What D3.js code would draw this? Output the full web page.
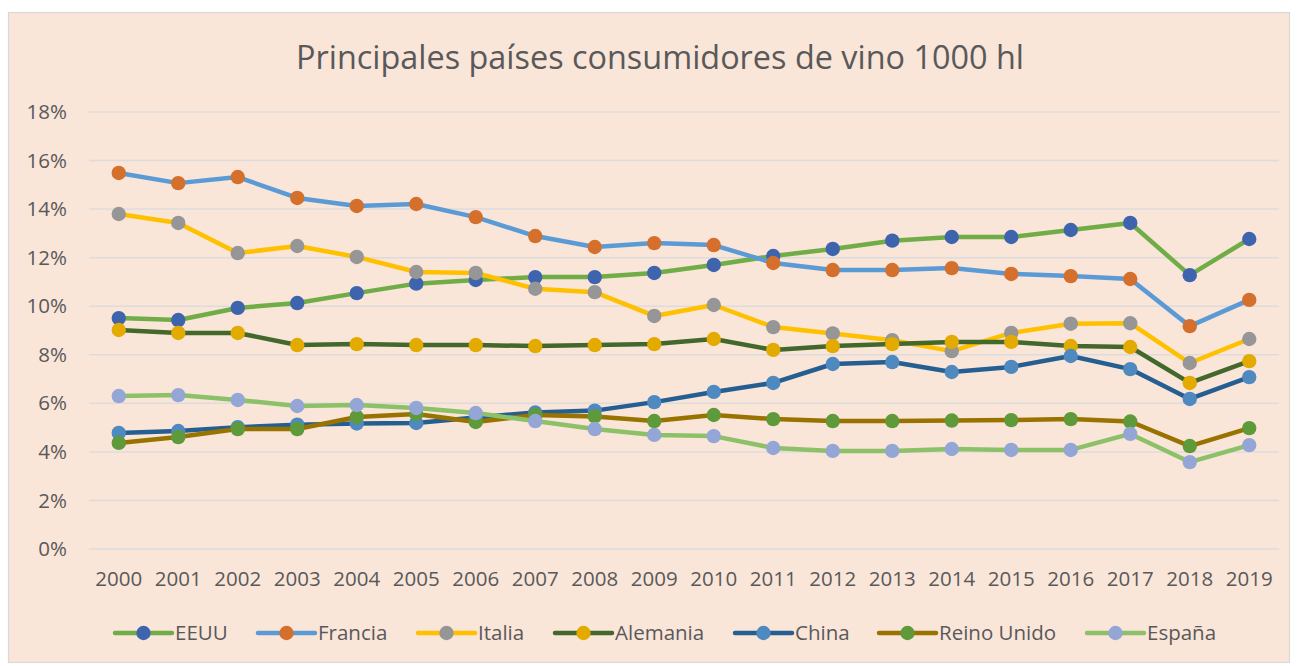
<!DOCTYPE html>
<html>
<head>
<meta charset="utf-8">
<script src="https://cdn.jsdelivr.net/npm/d3@7"></script>
<style>
  body { margin: 0; background: #ffffff; }
  svg { display: block; font-family: "Open Sans", Lato, sans-serif; }
</style>
</head>
<body>
<div id="chart"></div>
<script>
// ***** Data *****
var years = ["2000","2001","2002","2003","2004","2005","2006","2007","2008","2009",
             "2010","2011","2012","2013","2014","2015","2016","2017","2018","2019"];

var eeuu     = [9.51, 9.43, 9.93, 10.13, 10.54, 10.93, 11.08, 11.2, 11.2, 11.37, 11.7, 12.07, 12.36, 12.7, 12.85, 12.85, 13.14, 13.43, 11.28, 12.77];
var francia  = [15.49, 15.07, 15.32, 14.46, 14.13, 14.21, 13.67, 12.89, 12.44, 12.6, 12.52, 11.78, 11.49, 11.49, 11.57, 11.33, 11.24, 11.12, 9.18, 10.26];
var italia   = [13.8, 13.43, 12.19, 12.48, 12.03, 11.41, 11.37, 10.72, 10.58, 9.6, 10.05, 9.14, 8.88, 8.6, 8.15, 8.9, 9.28, 9.3, 7.66, 8.65];
var alemania = [9.02, 8.9, 8.9, 8.4, 8.44, 8.4, 8.4, 8.36, 8.4, 8.44, 8.65, 8.2, 8.36, 8.44, 8.53, 8.53, 8.36, 8.32, 6.84, 7.74];
var china    = [4.78, 4.86, 5.02, 5.12, 5.17, 5.19, 5.42, 5.62, 5.7, 6.05, 6.47, 6.84, 7.62, 7.7, 7.29, 7.5, 7.95, 7.41, 6.18, 7.08];
var reino    = [4.37, 4.61, 4.94, 4.94, 5.44, 5.56, 5.23, 5.52, 5.46, 5.27, 5.52, 5.35, 5.27, 5.27, 5.29, 5.31, 5.35, 5.25, 4.24, 4.98];
var espana   = [6.3, 6.34, 6.14, 5.89, 5.93, 5.81, 5.6, 5.27, 4.94, 4.7, 4.65, 4.16, 4.04, 4.04, 4.12, 4.08, 4.08, 4.74, 3.58, 4.28];

var yTicks = [0, 2, 4, 6, 8, 10, 12, 14, 16, 18];

var seriesNames   = ["EEUU", "Francia", "Italia", "Alemania", "China", "Reino Unido", "España"];
var seriesValues  = [eeuu, francia, italia, alemania, china, reino, espana];
var lineColors    = ["#70AD47", "#5B9BD5", "#FFC000", "#43682B", "#255E91", "#997300", "#8CC168"];
var markerColors  = ["#3F64AE", "#D46F2C", "#969696", "#E3AA00", "#4E8AC0", "#5F9A3A", "#94A6D6"];

// ***** Chart setup *****
var svgWidth = 1298;
var svgHeight = 666;

var margin = { top: 112, right: 19, bottom: 117, left: 89 };
var width = svgWidth - margin.left - margin.right;
var height = svgHeight - margin.top - margin.bottom;

var svg = d3.select("#chart").append("svg")
    .attr("width", svgWidth)
    .attr("height", svgHeight);

// chart area box
svg.append("rect")
    .attr("x", 8.5)
    .attr("y", 12.5)
    .attr("width", 1281)
    .attr("height", 650)
    .attr("fill", "#FAE5D9")
    .attr("stroke", "#D9D9D9")
    .attr("stroke-width", 1.2);

// title
svg.append("text")
    .attr("x", 660)
    .attr("y", 69)
    .attr("text-anchor", "middle")
    .attr("font-size", "32.4px")
    .attr("fill", "#595959")
    .text("Principales países consumidores de vino 1000 hl");

var chartGroup = svg.append("g")
    .attr("transform", `translate(${margin.left}, ${margin.top})`);

var xScale = d3.scaleBand()
    .domain(years)
    .range([0, width]);

var yScale = d3.scaleLinear()
    .domain([0, 18])
    .range([height, 0]);

// gridlines
chartGroup.selectAll(".grid")
    .data(yTicks)
    .enter()
    .append("line")
    .attr("x1", 0)
    .attr("x2", width)
    .attr("y1", d => yScale(d))
    .attr("y2", d => yScale(d))
    .attr("stroke", "#DCDCDC")
    .attr("stroke-width", 1.5);

// y axis
var leftAxis = d3.axisLeft(yScale)
    .tickValues(yTicks)
    .tickSize(0)
    .tickPadding(22)
    .tickFormat(d => d + "%");

var yAxis = chartGroup.append("g").call(leftAxis);
yAxis.select(".domain").remove();
yAxis.selectAll("text")
    .attr("font-size", "20.5px")
    .attr("fill", "#595959")
    .attr("font-family", "'Open Sans', sans-serif");

// x axis
var bottomAxis = d3.axisBottom(xScale)
    .tickSize(0)
    .tickPadding(22);

var xAxis = chartGroup.append("g")
    .attr("transform", `translate(0, ${height})`)
    .call(bottomAxis);
xAxis.select(".domain").remove();
xAxis.selectAll("text")
    .attr("font-size", "20.5px")
    .attr("fill", "#595959")
    .attr("font-family", "'Open Sans', sans-serif");

// lines + markers, series in order
var line = d3.line()
    .x((d, i) => xScale(years[i]) + xScale.bandwidth() / 2)
    .y(d => yScale(d));

seriesValues.forEach(function(vals, s) {
    var g = chartGroup.append("g");
    g.append("path")
        .datum(vals)
        .attr("d", line)
        .attr("fill", "none")
        .attr("stroke", lineColors[s])
        .attr("stroke-width", 4.5)
        .attr("stroke-linejoin", "round");
    g.selectAll("circle")
        .data(vals)
        .enter()
        .append("circle")
        .attr("cx", (d, i) => xScale(years[i]) + xScale.bandwidth() / 2)
        .attr("cy", d => yScale(d))
        .attr("r", 7.2)
        .attr("fill", markerColors[s]);
});

// legend
var legendX = [115, 258, 418, 555, 735, 879, 1087];
var legendY = 633;
var legend = svg.append("g");
seriesNames.forEach(function(name, s) {
    var lg = legend.append("g").attr("transform", `translate(${legendX[s]}, ${legendY})`);
    lg.append("line")
        .attr("x1", 0).attr("x2", 57)
        .attr("y1", 0).attr("y2", 0)
        .attr("stroke", lineColors[s])
        .attr("stroke-width", 4.5)
        .attr("stroke-linecap", "round");
    lg.append("circle")
        .attr("cx", 28.5).attr("cy", 0).attr("r", 7.2)
        .attr("fill", markerColors[s]);
    lg.append("text")
        .attr("x", 60)
        .attr("y", 0)
        .attr("dy", "0.35em")
        .attr("font-size", "20.5px")
        .attr("fill", "#595959")
        .text(name);
});
</script>
</body>
</html>
